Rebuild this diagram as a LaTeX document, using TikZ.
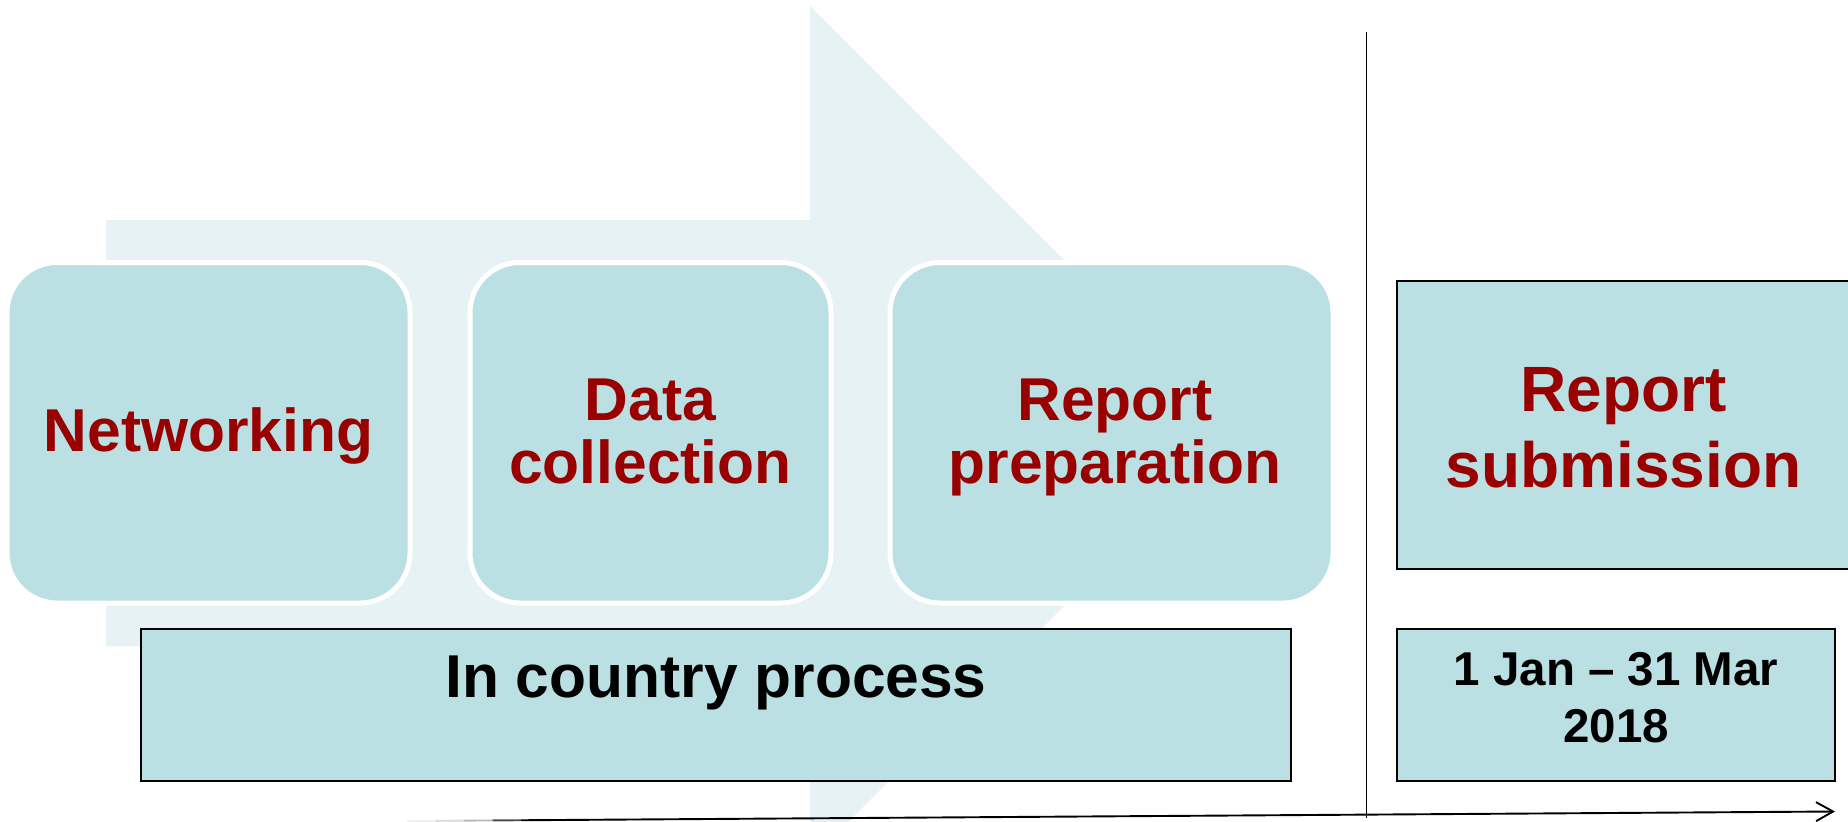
\documentclass[tikz,border=0pt]{standalone}
\usepackage{fontspec}
\setmainfont{Liberation Sans}
\usetikzlibrary{arrows.meta,calc}
\definecolor{arrowbg}{HTML}{E6F2F4}
\definecolor{boxfill}{HTML}{BBE0E3}
\definecolor{darkred}{HTML}{990000}
\newcommand\twolines[2]{\begin{tabular}[t]{@{}c@{}}#1\\#2\end{tabular}}
\tikzset{
  stepbox/.style={rounded corners=50pt, fill=boxfill, draw=white, line width=5pt, inner sep=0pt, minimum height=340.5pt},
  plainbox/.style={fill=boxfill, draw=black, line width=1.6pt, inner sep=0pt},
  steptext/.style={text=darkred, inner sep=0pt, anchor=base, font=\fontsize{60.5}{63}\selectfont\bfseries},
  subtext/.style={text=darkred, inner sep=0pt, anchor=base, font=\fontsize{64}{76}\selectfont\bfseries},
  blacktext/.style={text=black, inner sep=0pt, anchor=base, font=\fontsize{60.5}{64}\selectfont\bfseries},
  datetext/.style={text=black, inner sep=0pt, anchor=base, font=\fontsize{47.5}{57}\selectfont\bfseries},
  rule/.style={draw=black, line width=1.9pt},
}
\begin{document}
\begin{tikzpicture}[x=1pt,y=-1pt]
\useasboundingbox (0,0) rectangle (1848,822);
% background arrow
\fill[arrowbg] (106,220) -- (810,220) -- (810,6) -- (1237,433) -- (810,860) -- (810,646) -- (106,646) -- cycle;
% step boxes
\node[stepbox, minimum width=403pt] (net) at (208.5,432.75) {};
\node[stepbox, minimum width=361pt] (data) at (650.5,432.75) {};
\node[stepbox, minimum width=443pt] (prep) at (1111.5,432.75) {};
\path (net.center) ++(0,18.5) node[steptext] (netT) {Networking};
\path (data.center) ++(0,-12.5) node[steptext] (dataT) {\twolines{Data}{collection}};
\path (prep.center) ++(3.5,-12.5) node[steptext] (prepT) {\twolines{Report}{preparation}};
% plain boxes
\node[plainbox, minimum width=1150pt, minimum height=152pt] (country) at (716,705) {};
\node[plainbox, minimum width=453pt, minimum height=288pt] (sub) at (1623.5,425) {};
\node[plainbox, minimum width=438pt, minimum height=152pt] (date) at (1616,705) {};
\path (country.center) ++(0,-8) node[blacktext] (countryT) {In country process};
\path (sub.center) ++(0,-13.5) node[subtext] (subT) {\twolines{Report}{submission}};
\path (date.center) ++(0,-20) node[datetext] (dateT) {\twolines{1 Jan -- 31 Mar}{2018}};
% vertical separator
\coordinate (vt) at (1366.5,32);
\coordinate (vb) at (1366.5,818);
\draw[rule] (vt) -- (vb);
% time axis
\coordinate (axL) at (407,821);
\coordinate (axR) at (1835,811.5);
\draw[line width=1.9pt, gray!12] (axL) -- ($(axL)!0.02!(axR)$);
\draw[line width=1.9pt, gray!30] ($(axL)!0.02!(axR)$) -- ($(axL)!0.04!(axR)$);
\draw[line width=1.9pt, gray!55] ($(axL)!0.04!(axR)$) -- ($(axL)!0.06!(axR)$);
\draw[line width=1.9pt, black!70] ($(axL)!0.06!(axR)$) -- ($(axL)!0.08!(axR)$);
\draw[line width=1.9pt, black, -{Straight Barb[length=17pt,width=19pt,line width=1.9pt]}] ($(axL)!0.08!(axR)$) -- (axR);
\end{tikzpicture}
\end{document}
